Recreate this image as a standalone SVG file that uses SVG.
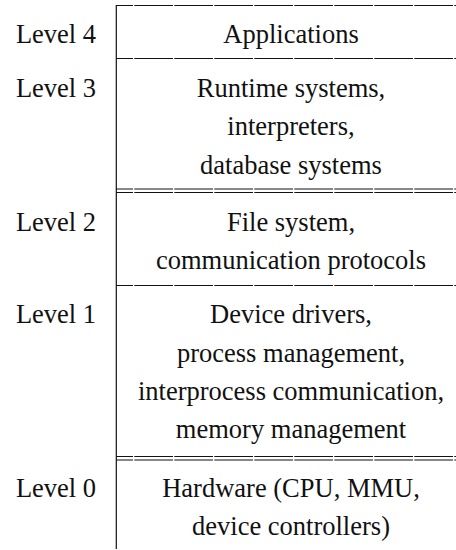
<svg xmlns="http://www.w3.org/2000/svg" width="456" height="550" viewBox="0 0 456 550">
  <style>
    text { font-family: "Liberation Serif", "Times New Roman", serif; font-size: 26.5px; fill: #111; }
    .lbl { text-anchor: middle; }
    .cell { text-anchor: middle; }
    .rule { stroke: #111; stroke-width: 1.1; fill: none; stroke-dasharray: 38.7 1.3; stroke-dashoffset: 21.7; }
    .vrule { stroke: #111; stroke-width: 1.2; fill: none; }
  </style>

  <!-- table rules -->
  <g id="rules">
    <line class="vrule" x1="116.3" y1="5" x2="116.3" y2="549"/>
    <line class="rule" x1="116" y1="5.5" x2="456" y2="5.5"/>
    <line class="rule" x1="116" y1="58.5" x2="456" y2="58.5"/>
    <line class="rule" x1="116" y1="189" x2="456" y2="189"/>
    <line class="rule" x1="116" y1="192.5" x2="456" y2="192.5"/>
    <line class="rule" x1="116" y1="285.5" x2="456" y2="285.5"/>
    <line class="rule" x1="116" y1="456.5" x2="456" y2="456.5"/>
    <line class="rule" x1="116" y1="460" x2="456" y2="460"/>
  </g>

  <g id="level4">
    <text class="lbl" x="56" y="43">Level 4</text>
    <text class="cell" x="291" y="43">Applications</text>
  </g>

  <g id="level3">
    <text class="lbl" x="56" y="96.5">Level 3</text>
    <text class="cell" x="291" y="96.5">Runtime systems,</text>
    <text class="cell" x="291" y="135">interpreters,</text>
    <text class="cell" x="291" y="173.5">database systems</text>
  </g>

  <g id="level2">
    <text class="lbl" x="56" y="230.5">Level 2</text>
    <text class="cell" x="291" y="230.5">File system,</text>
    <text class="cell" x="291" y="268.5">communication protocols</text>
  </g>

  <g id="level1">
    <text class="lbl" x="56" y="323">Level 1</text>
    <text class="cell" x="291" y="323">Device drivers,</text>
    <text class="cell" x="291" y="361.5">process management,</text>
    <text class="cell" x="291" y="400">interprocess communication,</text>
    <text class="cell" x="291" y="438">memory management</text>
  </g>

  <g id="level0">
    <text class="lbl" x="56" y="496.5">Level 0</text>
    <text class="cell" x="291" y="496.5">Hardware (CPU, MMU,</text>
    <text class="cell" x="291" y="535">device controllers)</text>
  </g>
</svg>
